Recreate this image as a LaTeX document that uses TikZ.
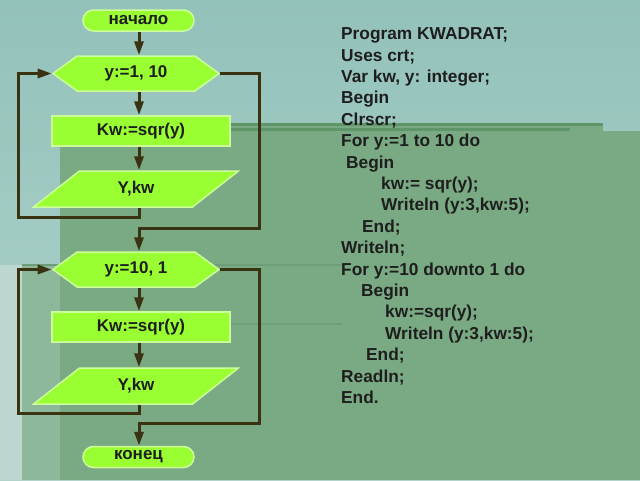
\documentclass[tikz,border=0pt]{standalone}
\usepackage{fontspec}
\setmainfont{Liberation Sans}
\usetikzlibrary{arrows.meta,shapes.geometric,shapes.symbols}
\definecolor{bgtop}{HTML}{93C2BA}
\definecolor{bgbot}{HTML}{B0D3CC}
\definecolor{dk}{HTML}{7AAA84}
\definecolor{dkl}{HTML}{5F9669}
\definecolor{dkline}{HTML}{6E9E78}
\definecolor{strip}{HTML}{8DB89B}
\definecolor{edge}{HTML}{BDD8D1}
\definecolor{lime}{HTML}{99FF33}
\definecolor{limeb}{HTML}{CCFF99}
\definecolor{wire}{HTML}{3A3312}
\definecolor{ink}{HTML}{1E1E1E}
\newcommand{\boxfont}{\fontsize{17}{20}\selectfont\bfseries}
\newcommand{\codefont}{\fontsize{17.3}{20}\selectfont\bfseries}
\begin{document}
\begin{tikzpicture}[x=1pt,y=-1pt,
  shapebase/.style={fill=lime, draw=limeb, line width=1.5pt, inner sep=0pt, font=\boxfont, text=ink},
  term/.style={shapebase, rectangle, rounded corners=10.5pt, minimum width=111pt, minimum height=21pt},
  proc/.style={shapebase, rectangle, minimum width=178pt, minimum height=30pt},
  loopbox/.style={shapebase, signal, signal to=west and east, signal pointer angle=72, minimum width=166pt, minimum height=35pt},
  io/.style={shapebase, trapezium, trapezium left angle=45, trapezium right angle=135, trapezium stretches=true, minimum width=206pt, minimum height=36pt},
  wire/.style={draw=wire, line width=3pt, -{Triangle[length=14pt,width=9pt]}},
  code/.style={anchor=base west, inner sep=0pt, font=\codefont, text=ink}]
% background
\useasboundingbox (0,0) rectangle (640,480);
\shade[top color=bgtop, bottom color=bgbot] (0,0) rectangle (640,480);
\fill[dk] (60,123) rectangle (603,480);
\fill[dk] (603,131) rectangle (640,480);
\fill[dkl] (60,122.5) rectangle (603,126);
\fill[dkl] (60,128) rectangle (570,131);
\fill[edge] (0,265) rectangle (22,480);
\fill[strip] (22,265) rectangle (60,480);
\fill[dkline] (22,264) rectangle (342,266);
\fill[dkline] (60,323) rectangle (342,325);
% flowchart nodes
\coordinate (ax) at (139,0);
\node[term] (start) at (138.5,20.5) {начало};
\node[loopbox] (h1) at (136,73.5) {y:=1, 10};
\node[proc] (r1) at (141,131) {Kw:=sqr(y)};
\node[io] (p1) at (136,189) {Y,kw};
\node[loopbox] (h2) at (136,269.5) {y:=10, 1};
\node[proc] (r2) at (141,327) {Kw:=sqr(y)};
\node[io] (p2) at (136,386) {Y,kw};
\node[term] (end) at (138.5,457) {конец};
\coordinate (l1) at (18,217);
\coordinate (x1) at (259,228);
\coordinate (l2) at (18,413);
\coordinate (x2) at (259,423);
% connectors
\draw[wire] (start.south -| ax) -- (h1.north -| ax);
\draw[wire] (h1.south -| ax) -- (r1.north -| ax);
\draw[wire] (r1.south -| ax) -- (p1.north -| ax);
\draw[wire] (p1.south -| ax) |- (l1) |- (h1.west);
\draw[wire] (h1.east) -| (x1) -| (h2.north -| ax);
\draw[wire] (h2.south -| ax) -- (r2.north -| ax);
\draw[wire] (r2.south -| ax) -- (p2.north -| ax);
\draw[wire] (p2.south -| ax) |- (l2) |- (h2.west);
\draw[wire] (h2.east) -| (x2) -| (end.north -| ax);
% program text
\node[code] (c1) at (341,39.7) {Program KWADRAT;};
\node[code] (c2) at (341,61.1) {Uses crt;};
\node[code] (c3) at (341,82.5) {Var kw, y: integer;};
\node[code] (c4) at (341,103.9) {Begin};
\node[code] (c5) at (341,125.3) {Clrscr;};
\node[code] (c6) at (341,146.7) {For y:=1 to 10 do};
\node[code] (c7) at (346,168.1) {Begin};
\node[code] (c8) at (381,189.5) {kw:= sqr(y);};
\node[code] (c9) at (381,210.9) {Writeln (y:3,kw:5);};
\node[code] (c10) at (362,232.3) {End;};
\node[code] (c11) at (341,253.7) {Writeln;};
\node[code] (c12) at (341,275.1) {For y:=10 downto 1 do};
\node[code] (c13) at (361,296.5) {Begin};
\node[code] (c14) at (385,317.9) {kw:=sqr(y);};
\node[code] (c15) at (385,339.3) {Writeln (y:3,kw:5);};
\node[code] (c16) at (366,360.7) {End;};
\node[code] (c17) at (341,382.1) {Readln;};
\node[code] (c18) at (341,403.5) {End.};
\end{tikzpicture}
\end{document}
